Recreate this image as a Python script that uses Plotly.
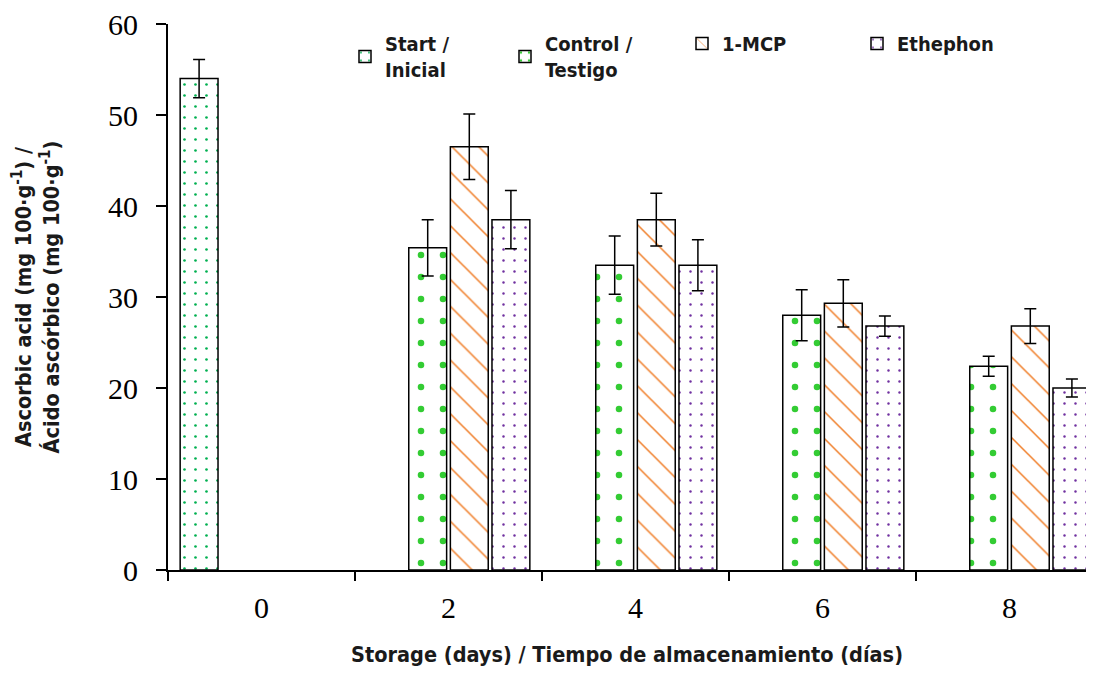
import plotly.graph_objects as go

days = ["0", "2", "4", "6", "8"]
series_names = ["Start /<br>Inicial", "Control /<br>Testigo", "1-MCP", "Ethephon"]
start_vals = [54.0, None, None, None, None]
start_err = [2.1, 0, 0, 0, 0]
control_vals = [None, 35.4, 33.5, 28.0, 22.4]
control_err = [0, 3.1, 3.2, 2.8, 1.1]
mcp_vals = [None, 46.5, 38.5, 29.3, 26.8]
mcp_err = [0, 3.6, 2.9, 2.6, 1.9]
eth_vals = [None, 38.5, 33.5, 26.8, 20.0]
eth_err = [0, 3.2, 2.8, 1.1, 1.0]

styles = [
    dict(shape=".", fg="#00b050", size=11, sol=0.045),
    dict(shape=".", fg="#33cc33", size=22, sol=0.07),
    dict(shape="\\", fg="#f07f2a", size=19, sol=0.08),
    dict(shape=".", fg="#7030a0", size=11, sol=0.04),
]
vals = [start_vals, control_vals, mcp_vals, eth_vals]
errs = [start_err, control_err, mcp_err, eth_err]
legend_ids = ["legend2", "legend3", "legend4", "legend5"]
legend_x_px = [345, 505, 682, 857]

narrow = "DejaVu Sans Condensed, Liberation Sans Narrow, sans-serif"
serif = "Liberation Serif, Times New Roman, serif"

W, H = 1078, 659
L = 160
plot_w = W - L

fig = go.Figure()
for name, v, e, s, lg in zip(series_names, vals, errs, styles, legend_ids):
    fig.add_trace(go.Bar(
        x=days, y=v, name=name, legend=lg, showlegend=True,
        marker=dict(color="white", line=dict(color="black", width=1.5),
                    pattern=dict(shape=s["shape"], fgcolor=s["fg"], bgcolor="white", fgopacity=1,
                                 size=s["size"], solidity=s["sol"], fillmode="overlay")),
        error_y=dict(type="data", array=e, color="black", thickness=1.5, width=6, visible=True),
    ))

legend_layout = {}
for lg, lx in zip(legend_ids, legend_x_px):
    legend_layout[lg] = dict(orientation="h", x=(lx - 168) / plot_w, y=1.0, xanchor="left", yanchor="top",
                             font=dict(family=narrow, size=20, color="#1a1a1a", weight="bold"),
                             bgcolor="rgba(0,0,0,0)")

fig.update_layout(
    width=W, height=H,
    margin=dict(l=L, r=0, t=16, b=97, autoexpand=False),
    plot_bgcolor="white", paper_bgcolor="white",
    barmode="group", bargap=0.11, bargroupgap=0.09,
    **legend_layout,
    xaxis=dict(type="category", range=[-0.5, -0.5 + plot_w / 187.0], showline=True, linecolor="black", linewidth=2,
               ticks="outside", tickson="boundaries", ticklen=9, tickwidth=2, tickcolor="black",
               ticklabelstandoff=10, ticklabeloverflow="allow",
               tickfont=dict(family=serif, size=30, color="black"), showgrid=False, automargin=False,
               title=dict(text="Storage (days) / Tiempo de almacenamiento (días)",
                          font=dict(family=narrow, size=21.5, color="#1a1a1a", weight="bold"), standoff=29)),
    yaxis=dict(range=[0, 60], dtick=10, showline=True, linecolor="black", linewidth=2,
               ticks="outside", ticklen=10, tickwidth=2, tickcolor="black", showgrid=False, zeroline=False,
               ticklabelstandoff=12, ticklabeloverflow="allow",
               tickfont=dict(family=serif, size=30, color="black"), automargin=False,
               title=dict(text="Ascorbic acid (mg 100·g<sup>-1</sup>) /<br>Ácido ascórbico (mg 100·g<sup>-1</sup>)",
                          font=dict(family=narrow, size=21.5, color="#1a1a1a", weight="bold"), standoff=49)),
)

fig.write_html("out.html")
